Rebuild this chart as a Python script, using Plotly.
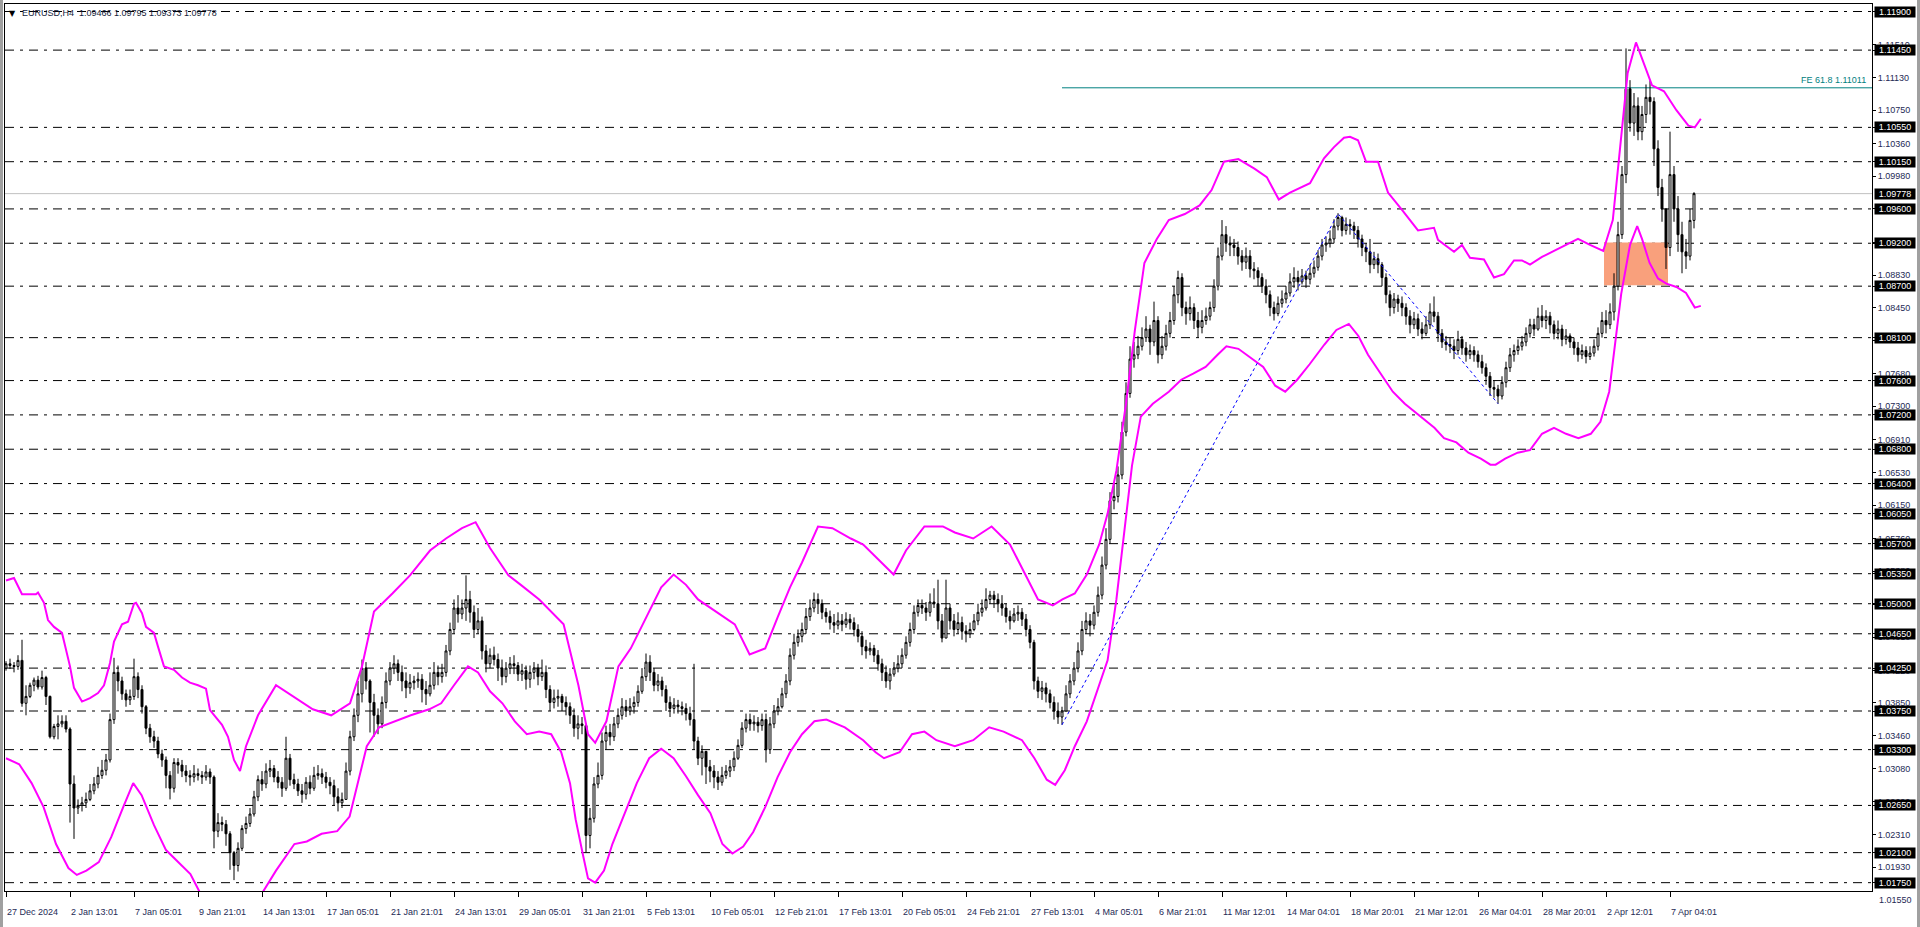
import plotly.graph_objects as go

# ---------------- data ----------------
TITLE_SYMBOL = "EURUSD,H4"
TITLE_OHLC = "1.09466 1.09795 1.09373 1.09778"

TIME_LABEL_BARS = [0, 16, 32, 48, 64, 80, 96, 112, 128, 144, 160, 176, 192, 208,
                   224, 240, 256, 272, 288, 304, 320, 336, 352, 368, 384, 400, 416]
TIME_LABELS = ["27 Dec 2024", "2 Jan 13:01", "7 Jan 05:01", "9 Jan 21:01", "14 Jan 13:01",
               "17 Jan 05:01", "21 Jan 21:01", "24 Jan 13:01", "29 Jan 05:01", "31 Jan 21:01",
               "5 Feb 13:01", "10 Feb 05:01", "12 Feb 21:01", "17 Feb 13:01", "20 Feb 05:01",
               "24 Feb 21:01", "27 Feb 13:01", "4 Mar 05:01", "6 Mar 21:01", "11 Mar 12:01",
               "14 Mar 04:01", "18 Mar 20:01", "21 Mar 12:01", "26 Mar 04:01", "28 Mar 20:01",
               "2 Apr 12:01", "7 Apr 04:01"]

# prices in pips above 1.0000 (e.g. 425 -> 1.0425)
FIRST_OPEN = 425
CLOSE = [
    430, 428, 427, 434, 384, 392, 405, 411, 403, 414,
    392, 345, 357, 360, 363, 354, 290, 262, 265, 268,
    272, 282, 290, 300, 306, 318, 365, 420, 410, 395,
    388, 392, 415, 400, 380, 355, 345, 340, 325, 318,
    300, 285, 315, 312, 305, 300, 298, 302, 300, 298,
    304, 298, 235, 245, 243, 232, 210, 195, 215, 238,
    244, 255, 275, 295, 290, 305, 308, 298, 292, 285,
    320, 295, 290, 282, 278, 292, 285, 300, 302, 298,
    292, 288, 275, 268, 272, 305, 345, 370, 395, 425,
    410, 385, 370, 360, 385, 410, 425, 430, 420, 410,
    402, 408, 410, 412, 400, 395, 405, 420, 415, 420,
    445, 470, 495, 488, 495, 505, 490, 470, 480, 445,
    430, 440, 435, 425, 415, 425, 430, 428, 418, 422,
    412, 420, 425, 415, 420, 400, 385, 390, 392, 385,
    380, 370, 355, 360, 358, 230, 250, 290, 300, 340,
    350, 345, 360, 370, 380, 375, 380, 385, 398, 415,
    432, 420, 405, 410, 400, 385, 378, 382, 380, 378,
    372, 365, 340, 320, 328, 310, 305, 298, 292, 300,
    305, 310, 320, 335, 355, 365, 360, 362, 358, 365,
    330, 360, 375, 380, 395, 410, 440, 455, 462, 470,
    485, 495, 505, 500, 490, 485, 478, 475, 480, 476,
    482, 478, 470, 462, 450, 445, 448, 440, 430, 420,
    410, 418, 425, 430, 440, 455, 470, 490, 498, 495,
    490, 502, 500, 480, 460, 495, 480, 470, 478, 468,
    465, 470, 480, 490, 495, 505, 510, 505, 500, 495,
    485, 480, 488, 490, 482, 470, 455, 410, 398, 402,
    395, 385, 375, 368, 375, 395, 410, 425, 445, 470,
    480, 475, 490, 510, 545, 575, 620, 625, 650, 700,
    745, 785, 790, 800, 810, 820, 805, 830, 790, 800,
    815, 830, 860, 880, 845, 838, 845, 830, 822, 830,
    835, 845, 870, 905, 930, 920, 918, 915, 905, 898,
    905, 890, 888, 880, 870, 860, 845, 838, 850, 855,
    862, 875, 880, 875, 882, 878, 885, 892, 905, 918,
    920, 925, 940, 950, 935, 942, 940, 935, 925, 915,
    910, 895, 902, 895, 880, 860, 845, 855, 850, 845,
    835, 825, 832, 820, 815, 825, 840, 835, 815, 805,
    802, 800, 795, 808, 798, 790, 795, 790, 782, 775,
    765, 752, 750, 742, 758, 775, 790, 795, 800, 805,
    815, 825, 820, 835, 830, 835, 825, 815, 820, 808,
    812, 805, 798, 790, 795, 788, 792, 800, 815, 830,
    825, 840, 870, 930, 1000, 1100, 1060, 1080, 1050, 1070,
    1090, 1085, 1030, 985, 960, 915, 1000, 960, 930, 910,
    905, 946.6, 977.8,
]
HIGH = [
    433, 436, 432, 440, 458, 405, 408, 414, 416, 422,
    416, 393, 360, 370, 370, 370, 356, 300, 272, 275,
    280, 290, 298, 310, 318, 325, 372, 437, 428, 415,
    400, 400, 436, 420, 405, 382, 360, 352, 345, 330,
    322, 305, 320, 320, 318, 312, 306, 312, 308, 305,
    312, 308, 300, 256, 252, 248, 235, 212, 222, 242,
    252, 262, 282, 300, 305, 314, 318, 312, 305, 298,
    345, 325, 302, 296, 290, 298, 300, 310, 312, 308,
    304, 298, 295, 285, 280, 315, 352, 378, 410, 435,
    432, 412, 395, 378, 392, 420, 432, 440, 435, 428,
    420, 418, 416, 420, 418, 410, 420, 432, 428, 430,
    452, 478, 505, 510, 505, 533, 515, 498, 495, 485,
    452, 448, 450, 442, 435, 432, 438, 440, 432, 430,
    428, 428, 432, 430, 435, 428, 405, 400, 400, 395,
    392, 385, 378, 370, 368, 260, 262, 298, 315, 350,
    358, 360, 368, 378, 390, 388, 390, 392, 405, 425,
    442, 440, 425, 418, 415, 405, 392, 390, 388, 386,
    384, 380, 430, 345, 335, 325, 318, 312, 305, 310,
    312, 318, 328, 342, 362, 372, 372, 370, 368, 372,
    372, 368, 382, 390, 402, 418, 448, 465, 470, 478,
    495, 505, 513, 512, 505, 495, 492, 488, 490, 488,
    490, 488, 484, 476, 468, 458, 455, 452, 446, 436,
    428, 425, 432, 440, 448, 462, 478, 498, 505, 505,
    502, 512, 518, 528, 488, 528, 500, 488, 490, 485,
    475, 478, 488, 500, 505, 518, 515, 515, 512, 510,
    500, 492, 495, 498, 495, 488, 475, 458, 415, 410,
    408, 400, 392, 385, 380, 405, 418, 432, 455, 480,
    490, 488, 498, 520, 555, 588, 630, 640, 660, 712,
    758, 800, 805, 812, 822, 835, 825, 852, 835, 812,
    825, 840, 870, 888, 885, 852, 858, 850, 840, 842,
    845, 852, 878, 915, 947, 940, 928, 925, 922, 912,
    915, 912, 898, 892, 885, 878, 865, 852, 858, 865,
    870, 885, 892, 888, 890, 888, 895, 900, 912, 925,
    928, 935, 948, 955, 952, 950, 948, 945, 940, 930,
    920, 925, 910, 908, 898, 885, 865, 862, 860, 858,
    850, 842, 840, 838, 828, 835, 850, 858, 840, 820,
    812, 810, 808, 818, 812, 805, 802, 800, 795, 790,
    780, 770, 760, 755, 765, 782, 798, 802, 808, 812,
    822, 832, 832, 845, 848, 842, 840, 830, 830, 825,
    820, 815, 810, 805, 802, 800, 800, 808, 822, 840,
    842, 850, 885, 945, 1010, 1147, 1110, 1095, 1090, 1080,
    1105, 1110, 1090, 1040, 995, 960, 1050, 1010, 975, 945,
    925, 960, 979.5,
]
LOW = [
    422, 424, 420, 423, 380, 370, 390, 398, 400, 400,
    382, 343, 342, 342, 356, 350, 245, 226, 255, 258,
    262, 270, 278, 285, 296, 300, 315, 360, 398, 388,
    380, 382, 388, 390, 372, 348, 338, 332, 320, 310,
    285, 272, 280, 302, 298, 292, 288, 292, 294, 290,
    294, 290, 215, 228, 235, 218, 190, 178, 188, 212,
    232, 240, 252, 270, 282, 285, 298, 292, 285, 275,
    282, 288, 284, 276, 268, 272, 278, 282, 295, 290,
    285, 278, 265, 258, 262, 272, 300, 340, 362, 385,
    400, 350, 345, 348, 355, 378, 405, 418, 410, 398,
    390, 395, 400, 402, 385, 382, 392, 400, 405, 408,
    415, 440, 465, 478, 482, 480, 478, 460, 465, 435,
    420, 425, 428, 410, 405, 408, 418, 418, 410, 410,
    400, 402, 412, 405, 410, 390, 375, 378, 380, 375,
    370, 360, 345, 342, 348, 210, 215, 245, 285, 295,
    330, 335, 340, 355, 365, 368, 370, 372, 380, 395,
    410, 410, 398, 398, 392, 375, 368, 372, 372, 370,
    364, 358, 330, 312, 300, 290, 292, 285, 283, 288,
    296, 298, 305, 318, 332, 350, 352, 352, 350, 352,
    315, 325, 355, 370, 378, 390, 405, 435, 450, 455,
    465, 480, 490, 488, 482, 478, 470, 466, 470, 468,
    472, 470, 462, 455, 440, 436, 440, 432, 422, 410,
    402, 400, 415, 420, 425, 436, 450, 465, 485, 488,
    480, 485, 495, 470, 455, 480, 470, 462, 465, 458,
    455, 460, 468, 475, 485, 492, 500, 495, 490, 486,
    478, 470, 478, 480, 474, 462, 448, 400, 390, 388,
    385, 378, 365, 360, 359, 375, 390, 405, 420, 440,
    465, 462, 470, 485, 505, 540, 570, 610, 618, 645,
    695, 740, 775, 785, 795, 805, 790, 800, 780, 785,
    795, 810, 825, 850, 835, 825, 830, 820, 810, 815,
    825, 830, 840, 865, 900, 910, 905, 905, 895, 888,
    890, 880, 878, 870, 862, 850, 835, 830, 835, 845,
    850, 858, 868, 865, 872, 868, 872, 880, 888, 900,
    910, 915, 920, 935, 928, 930, 930, 925, 915, 905,
    898, 885, 890, 885, 870, 850, 835, 838, 840, 835,
    825, 815, 820, 812, 808, 812, 820, 828, 805, 798,
    795, 792, 785, 790, 790, 782, 785, 782, 775, 768,
    755, 742, 740, 733, 738, 752, 770, 782, 790, 795,
    800, 810, 812, 818, 822, 820, 815, 808, 808, 800,
    802, 798, 790, 782, 785, 780, 784, 788, 795, 810,
    815, 820, 830, 865, 925, 990, 1050, 1045, 1040, 1040,
    1060, 1070, 1010, 975, 945, 890, 905, 945, 910, 885,
    890, 900, 937.3,
]

# magenta bands (bar index, price)
UPPER_BAR = [0, 2, 4, 7.5, 8, 9.5, 10.5, 12, 14, 15, 16, 17, 19, 21, 23, 24.5, 26, 27, 29, 30.5,
             32, 32.5, 34, 35, 37, 38, 39.5, 42, 44, 46, 48, 50, 51, 54, 55.5, 57, 58.5, 60, 63,
             67.5, 72, 76.7, 81.3, 86, 89, 92, 96.6, 101, 106, 110, 114, 117.4, 121, 125.6, 128.7,
             133.3, 139.4, 143.1, 145.5, 147.3, 150.1, 153.1, 156.2, 159.3, 163.8, 166.9, 170, 173,
             177.6, 182.2, 185.9, 189.8, 192.9, 196, 199, 203, 206.6, 211.2, 214.3, 218.9, 221.9,
             225, 229.6, 234.2, 237.2, 241.8, 246.4, 251, 254.9, 258, 261.7, 264.1, 267.2, 270.2,
             273.3, 275.4, 277.6, 280, 282.2, 284.6, 287.7, 290.7, 294.7, 298.4, 301.4, 304.5,
             308.1, 312.1, 315.2, 318.2, 321, 326, 329.5, 332, 334.5, 336, 338, 340, 343, 345.5,
             349, 353, 357, 358, 362, 364, 366, 369.5, 372, 374.5, 377, 379, 381, 384, 387, 390,
             393, 396, 399.3, 401.7, 403.8, 405.4, 407.5, 409.3, 411.5, 414.5, 417.6, 420.6,
             422.2, 423.7]
UPPER_PRICE = [1.0527, 1.0530, 1.0511, 1.0511, 1.0513, 1.0501, 1.0481, 1.0473, 1.0466, 1.0446,
               1.0427, 1.0402, 1.0386, 1.0390, 1.0396, 1.0405, 1.0431, 1.0456, 1.0476, 1.0479,
               1.0500, 1.0501, 1.0489, 1.0473, 1.0466, 1.0450, 1.0427, 1.0423, 1.0414, 1.0408,
               1.0405, 1.0401, 1.0376, 1.0359, 1.0345, 1.0318, 1.0305, 1.0334, 1.0370,
               1.0405, 1.0391, 1.0377, 1.0370, 1.0384, 1.0427, 1.0491, 1.0512, 1.0533, 1.0562,
               1.0576, 1.0588, 1.0595, 1.0565, 1.0533, 1.0522,
               1.0505, 1.0476, 1.0405, 1.0348, 1.0338, 1.0363, 1.0427, 1.0448, 1.0477, 1.0519,
               1.0534, 1.0522, 1.0505,
               1.0491, 1.0476, 1.0441, 1.0448, 1.0484, 1.0519, 1.0548, 1.0590, 1.0588, 1.0576,
               1.0569, 1.0548, 1.0534,
               1.0562, 1.0590, 1.0590, 1.0583, 1.0576, 1.0590, 1.0569, 1.0534, 1.0505, 1.0498,
               1.0505, 1.0512, 1.0534,
               1.0569, 1.0605, 1.0655, 1.0733, 1.0818, 1.0897, 1.0925, 1.0947, 1.0954, 1.0964,
               1.0982, 1.1015,
               1.1018, 1.1007, 1.0997, 1.0971, 1.0979, 1.0990, 1.1019, 1.1032, 1.1043, 1.1044,
               1.1040, 1.1015, 1.1015, 1.0979,
               1.0959, 1.0935, 1.0938, 1.0924, 1.0910, 1.0918, 1.0903, 1.0901, 1.0880, 1.0884,
               1.0900, 1.0900, 1.0895, 1.0904, 1.0911, 1.0918,
               1.0925, 1.0918, 1.0911, 1.0947, 1.1047, 1.1118, 1.1154, 1.1132, 1.1104, 1.1097,
               1.1075, 1.1057, 1.1055, 1.1065]
LOWER_BAR = [0, 3.3, 6.4, 9.4, 12.5, 15.6, 17.7, 20.1, 23.2, 26.3, 29.3, 31.8, 33.9, 37, 40, 43.1,
             46.1, 49.2, 52, 56, 60, 63, 64.5, 67.5, 72.1, 75.2, 78.9, 82.8, 85.9, 88, 90.2, 93.3,
             97.2, 101.2, 105.8, 108.8, 112, 115.5, 118, 121, 124.1, 127.2, 130.2, 133.3, 136.3,
             138.8, 141, 142.4, 144.3, 145.5, 147.3, 149.5, 151.6, 154.7, 157.7, 160.8, 163.8,
             166.9, 170, 173, 176.1, 179.1, 181.6, 184.3, 186.8, 189.8, 192.9, 196, 199, 202.1,
             205.1, 209.7, 214.3, 217.4, 219.5, 223.4, 226.5, 229.6, 232.6, 237.2, 241.8, 245.8,
             249.4, 254, 257.1, 260.2, 262.3, 264.7, 267.2, 270.2, 273.3, 275.4, 277.6, 279.4,
             281.5, 283.7, 286.7, 290.7, 293.8, 296.8, 299.9, 302.9, 305.1, 308.1, 311.2, 314.3,
             317.3, 319.8, 322.8, 325.9, 329.6, 332.6, 335.7, 338.1, 340.5, 343.6, 346.7, 349.7,
             353.4, 357.1, 359.5, 362.6, 365.6, 368.7, 371.1, 372.4, 374.8, 377.9, 381, 384, 387,
             390, 393.1, 396.2, 398.6, 400.8, 402.3, 403.8, 406, 407.8, 409, 410.9, 413, 415.1,
             417.6, 420, 422.2, 423.7]
LOWER_PRICE = [1.0320, 1.0313, 1.0291, 1.0263, 1.0220, 1.0192, 1.0184, 1.0189, 1.0199, 1.0228,
               1.0263, 1.0291, 1.0277, 1.0242, 1.0213, 1.0199, 1.0185, 1.0157, 1.0140, 1.0128,
               1.0135, 1.0155, 1.0166, 1.0189, 1.0220, 1.0223, 1.0232, 1.0235, 1.0252, 1.0291,
               1.0334, 1.0356, 1.0363, 1.0370, 1.0377, 1.0384, 1.0405, 1.0427, 1.0420, 1.0398,
               1.0384, 1.0363, 1.0348, 1.0351, 1.0348, 1.0327, 1.0291, 1.0249, 1.0206, 1.0180,
               1.0175, 1.0189, 1.0220, 1.0256, 1.0291, 1.0320, 1.0331, 1.0320, 1.0299, 1.0277,
               1.0256, 1.0220, 1.0209, 1.0217, 1.0234, 1.0263, 1.0298, 1.0327, 1.0348, 1.0363,
               1.0365, 1.0356, 1.0341, 1.0327, 1.0320, 1.0327, 1.0348, 1.0351, 1.0341, 1.0334,
               1.0341, 1.0356, 1.0351, 1.0341, 1.0320, 1.0295, 1.0289, 1.0306, 1.0334, 1.0363,
               1.0405, 1.0434, 1.0505, 1.0576, 1.0661, 1.0718, 1.0733, 1.0747, 1.0761, 1.0768,
               1.0776, 1.0790, 1.0800, 1.0797, 1.0786, 1.0776, 1.0754, 1.0747, 1.0761, 1.0779,
               1.0802, 1.0819, 1.0826, 1.0812, 1.0790, 1.0769, 1.0747, 1.0733, 1.0719, 1.0705,
               1.0693, 1.0688, 1.0676, 1.0669, 1.0662, 1.0662, 1.0669, 1.0676, 1.0679, 1.0698,
               1.0705, 1.0698, 1.0693, 1.0698, 1.0712, 1.0747, 1.0804, 1.0861, 1.0918, 1.0940,
               1.0925, 1.0897, 1.0879, 1.0873, 1.0869, 1.0862, 1.0845, 1.0847]

# horizontal level objects (boxed labels on the price scale)
LEVELS = [1.1190, 1.1145, 1.1055, 1.1015, 1.0960, 1.0920, 1.0870, 1.0810, 1.0760, 1.0720,
          1.0680, 1.0640, 1.0605, 1.0570, 1.0535, 1.0500, 1.0465, 1.0425, 1.0375, 1.0330,
          1.0265, 1.0210, 1.0175]
BID = 1.09778
SCALE_TICKS = [1.1151, 1.1113, 1.1075, 1.1036, 1.0998, 1.0960, 1.0921, 1.0883, 1.0845, 1.0807,
               1.0768, 1.0730, 1.0691, 1.0653, 1.0615, 1.0576, 1.0538, 1.0499, 1.0461, 1.0422,
               1.0385, 1.0346, 1.0308, 1.0269, 1.0231, 1.0193, 1.0155]

FIB_BARS = [264, 333, 373]
FIB_PRICES = [1.03590, 1.09545, 1.07331]
FE_TEXT = "FE 61.8 1.11011"
FE_PRICE = 1.11011
ZONE_BARS = [399.5, 415.5]
ZONE_PRICES = [1.0871, 1.0921]

# ---------------- layout constants ----------------
W, H = 1920, 927
ML, MR, MT, MB = 5, 48, 4, 36
X_RANGE = [-0.25, 466.5]
Y_RANGE = [1.01653, 1.119874]
NAVY = "#1e2a55"
FONT = "Liberation Sans, Arial, sans-serif"
DASHDOT = "9px,6px,3px,6px"

n = min(len(CLOSE), len(HIGH), len(LOW))
c = [1 + v / 1e4 for v in CLOSE[:n]]
o = [1 + FIRST_OPEN / 1e4] + c[:-1]
h = [max(1 + v / 1e4, oo, cc) for v, oo, cc in zip(HIGH[:n], o, c)]
l = [min(1 + v / 1e4, oo, cc) for v, oo, cc in zip(LOW[:n], o, c)]
bars = list(range(n))

fig = go.Figure()

fig.add_trace(go.Candlestick(
    x=bars, open=o, high=h, low=l, close=c,
    increasing=dict(line=dict(color="black", width=1), fillcolor="white"),
    decreasing=dict(line=dict(color="black", width=1), fillcolor="black"),
    whiskerwidth=0, hoverinfo="skip", showlegend=False))

fig.add_trace(go.Scatter(x=UPPER_BAR, y=UPPER_PRICE, mode="lines",
                         line=dict(color="#FF00FF", width=2), hoverinfo="skip", showlegend=False))
fig.add_trace(go.Scatter(x=LOWER_BAR, y=LOWER_PRICE, mode="lines",
                         line=dict(color="#FF00FF", width=2), hoverinfo="skip", showlegend=False))
fig.add_trace(go.Scatter(x=FIB_BARS, y=FIB_PRICES, mode="lines",
                         line=dict(color="#0000FF", width=1, dash="dot"), hoverinfo="skip",
                         showlegend=False))

shapes = []
shapes.append(dict(type="rect", xref="x", yref="y", x0=ZONE_BARS[0], x1=ZONE_BARS[1],
                   y0=ZONE_PRICES[0], y1=ZONE_PRICES[1], fillcolor="#F9A07C",
                   line=dict(width=0), layer="below"))
for lv in LEVELS:
    shapes.append(dict(type="line", xref="paper", yref="y", x0=0, x1=1, y0=lv, y1=lv,
                       line=dict(color="black", width=1, dash=DASHDOT), layer="below"))
shapes.append(dict(type="line", xref="paper", yref="y", x0=0, x1=1, y0=BID, y1=BID,
                   line=dict(color="#C0C0C0", width=1), layer="below"))
shapes.append(dict(type="line", xref="x", yref="y", x0=FIB_BARS[0], x1=X_RANGE[1],
                   y0=FE_PRICE, y1=FE_PRICE, line=dict(color="#008080", width=1), layer="below"))
# outer window frame (left grey strip, right grey edge)
pw = W - ML - MR
ph = H - MT - MB
shapes.append(dict(type="rect", xref="paper", yref="paper", x0=-ML / pw, x1=-(ML - 3) / pw,
                   y0=-MB / ph, y1=1 + MT / ph, fillcolor="#A0A0A0", line=dict(width=0)))
shapes.append(dict(type="rect", xref="paper", yref="paper", x0=1 + (MR - 3) / pw, x1=1 + MR / pw,
                   y0=-MB / ph, y1=1 + MT / ph, fillcolor="#A0A0A0", line=dict(width=0)))

annotations = []
ymin, ymax = Y_RANGE
for t in SCALE_TICKS:
    if t < ymin:
        annotations.append(dict(xref="paper", yref="paper", x=1, xanchor="left", xshift=5,
                                y=(t - ymin) / (ymax - ymin), yanchor="middle",
                                text=f"{t:.5f}", showarrow=False,
                                font=dict(color=NAVY, size=9, family=FONT)))
for lv in LEVELS + [BID]:
    annotations.append(dict(xref="paper", yref="y", x=1, y=lv, xanchor="left", xshift=2,
                            yanchor="middle",
                            text=f"{lv:.5f}", showarrow=False, bgcolor="black",
                            font=dict(color="white", size=9, family=FONT),
                            width=40, height=10, borderpad=0, align="center"))
annotations.append(dict(xref="paper", yref="y", x=1, xanchor="right", xshift=-4, y=FE_PRICE,
                        yanchor="bottom", yshift=1, text=FE_TEXT, showarrow=False,
                        font=dict(color="#008080", size=9, family=FONT)))
annotations.append(dict(xref="paper", yref="paper", x=0, xanchor="left", xshift=2, y=1,
                        yanchor="top", yshift=-3, text="▼", showarrow=False,
                        font=dict(color="black", size=8, family="DejaVu Sans")))
annotations.append(dict(xref="paper", yref="paper", x=0, xanchor="left", xshift=15, y=1,
                        yanchor="top", yshift=-2,
                        text=f"{TITLE_SYMBOL}  {TITLE_OHLC}", showarrow=False,
                        font=dict(color="#141c3a", size=9, family=FONT)))

in_ticks = [t for t in SCALE_TICKS if ymin <= t <= ymax]
tickvals = in_ticks + LEVELS
ticktext = [f"{t:.5f}" for t in in_ticks] + ["" for _ in LEVELS]

fig.update_layout(
    width=W, height=H, margin=dict(l=ML, r=MR, t=MT, b=MB),
    paper_bgcolor="white", plot_bgcolor="white", showlegend=False,
    font=dict(family=FONT, size=9, color=NAVY),
    shapes=shapes, annotations=annotations,
    xaxis=dict(range=X_RANGE, tickvals=TIME_LABEL_BARS, ticktext=TIME_LABELS,
               ticks="outside", ticklen=5, tickcolor="black", ticklabelposition="outside right",
               ticklabelstandoff=12,
               tickfont=dict(size=9, color=NAVY, family=FONT), showgrid=False, zeroline=False,
               showline=True, mirror=True, linecolor="black", linewidth=1,
               rangeslider=dict(visible=False), fixedrange=True),
    yaxis=dict(range=Y_RANGE, side="right", tickvals=tickvals, ticktext=ticktext,
               ticks="outside", ticklen=3, tickcolor="black",
               tickfont=dict(size=9, color=NAVY, family=FONT), showgrid=False, zeroline=False,
               showline=True, mirror=True, linecolor="black", linewidth=1, fixedrange=True),
)

fig.write_html("out.html", config={"displayModeBar": False},
               post_script="document.body.style.margin='0';document.body.style.overflow='hidden';")
